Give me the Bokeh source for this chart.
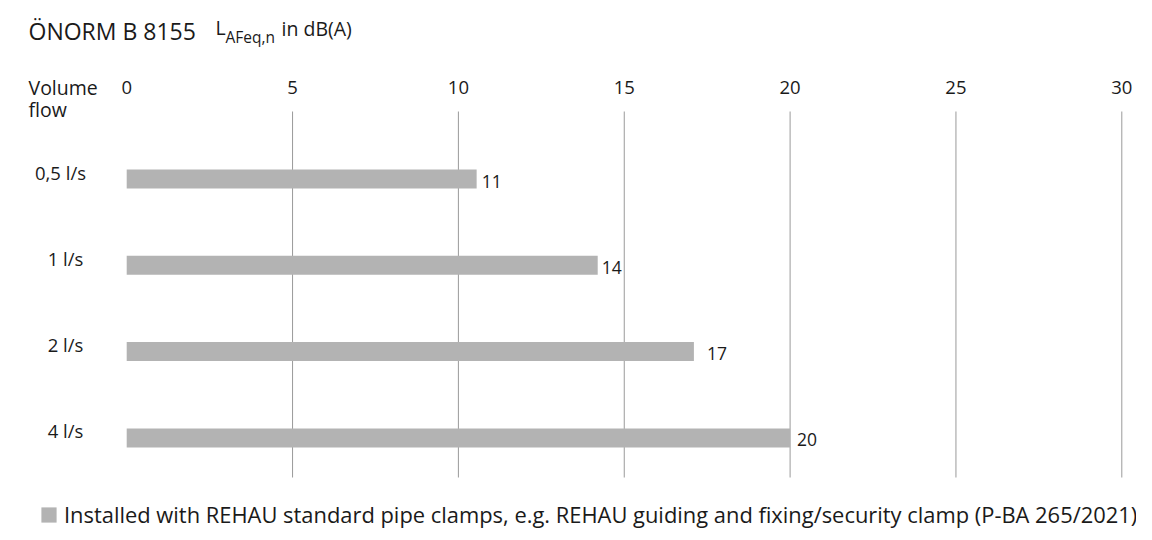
from bokeh.plotting import figure
from bokeh.models import Range1d, ColumnDataSource, Legend, LegendItem
from bokeh.core.properties import value
from bokeh.embed import file_html
from bokeh.resources import INLINE

# ---- data ----
categories = ["0,5 l/s", "1 l/s", "2 l/s", "4 l/s"]
values = [10.55, 14.2, 17.1, 20.0]
value_labels = ["11", "14", "17", "20"]
x_ticks = [0, 5, 10, 15, 20, 25, 30]
grid_ticks = [5, 10, 15, 20, 25, 30]
series_name = ("Installed with REHAU standard pipe clamps, e.g. REHAU guiding and "
               "fixing/security clamp (P-BA 265/2021)")
title_main = "ÖNORM B 8155"
unit_L = "L"
unit_sub = "AFeq,n"
unit_rest = "in dB(A)"
axis_title = ["Volume", "flow"]

# ---- layout (pixel positions in the page) ----
FONT = "Open Sans"
TXT = "#1a1a1a"
BAR = "#b3b3b3"
GRID = "#9a9a9a"
W, H = 1136, 532
OFF = 1                      # canvas offset in the screenshot
PX_X = 33.17                 # px per dB
PX_Y = 86.3                  # px per category step
ZERO_PAGE = 127.2            # page x of value 0
TOP_CAT_PAGE = 179.5         # page y of first category's bar centre
label_dx = [5, 4, 13, 7]     # value-label gaps (px)
cat_cx_page = [61, 66, 66, 66]
FS = "18.5px"

X_START = -(ZERO_PAGE - OFF) / PX_X
X_END = X_START + W / PX_X
Y_END = 3 + (TOP_CAT_PAGE - OFF) / PX_Y
Y_START = Y_END - H / PX_Y

def dx(page_x):
    return X_START + (page_x - OFF) / PX_X

def dy(page_y):
    return Y_END - (page_y - OFF) / PX_Y

pos = [len(categories) - 1 - i for i in range(len(categories))]

p = figure(width=W, height=H, output_backend="svg", toolbar_location=None,
           x_range=Range1d(X_START, X_END), y_range=Range1d(Y_START, Y_END),
           x_axis_location=None, y_axis_location=None,
           min_border=0)
p.outline_line_color = None
p.background_fill_color = "white"
p.border_fill_color = "white"
p.xgrid.visible = False
p.ygrid.visible = False

# vertical grid lines
p.segment(x0=grid_ticks, x1=grid_ticks, y0=dy(112), y1=dy(478),
          line_color=GRID, line_width=1)

# tick labels along the top
p.text(x=x_ticks, y=[dy(88)] * len(x_ticks), text=[str(t) for t in x_ticks],
       text_font=value(FONT), text_font_size=FS, text_color=TXT,
       text_align="center", text_baseline="middle")

src = ColumnDataSource(dict(y=pos, v=values, lab=value_labels, cat=categories,
                            dxo=label_dx, cx=[dx(c) for c in cat_cx_page]))
r = p.hbar(y="y", left=0, right="v", height=0.22, source=src,
           fill_color=BAR, line_color=None)

# value labels
p.text(x="v", y="y", text="lab", source=src, x_offset="dxo",
       y_offset=2, text_font=value(FONT), text_font_size="17.5px", text_color=TXT,
       text_baseline="middle", text_align="left")

# category labels (above-left of each bar)
p.text(x="cx", y="y", text="cat", source=src,
       y_offset=-7, text_font=value(FONT), text_font_size=FS,
       text_color=TXT, text_baseline="middle", text_align="center")

def lab(text, px, py, size):
    p.text(x=[dx(px)], y=[dy(py)], text=[text], text_font=value(FONT),
           text_font_size=size, text_color=TXT,
           text_baseline="middle", text_align="left")

lab(title_main, 29, 31, "23px")
lab(unit_L, 216, 28, "19.5px")
lab(unit_sub, 226, 37, "15.5px")
lab(unit_rest, 282, 29, "19.5px")
lab(axis_title[0], 29, 88, "19.5px")
lab(axis_title[1], 29, 110, "19.5px")

legend = Legend(items=[LegendItem(label=series_name, renderers=[r])],
                location=(40 - OFF, H - 529),
                padding=0, margin=0, spacing=0,
                glyph_width=19, glyph_height=19, label_standoff=6,
                label_text_font=FONT, label_text_font_size="21.9px",
                label_text_color=TXT, label_height=22,
                border_line_color=None, background_fill_alpha=0)
p.add_layout(legend, "center")

open("out.html", "w").write(file_html(p, INLINE))
